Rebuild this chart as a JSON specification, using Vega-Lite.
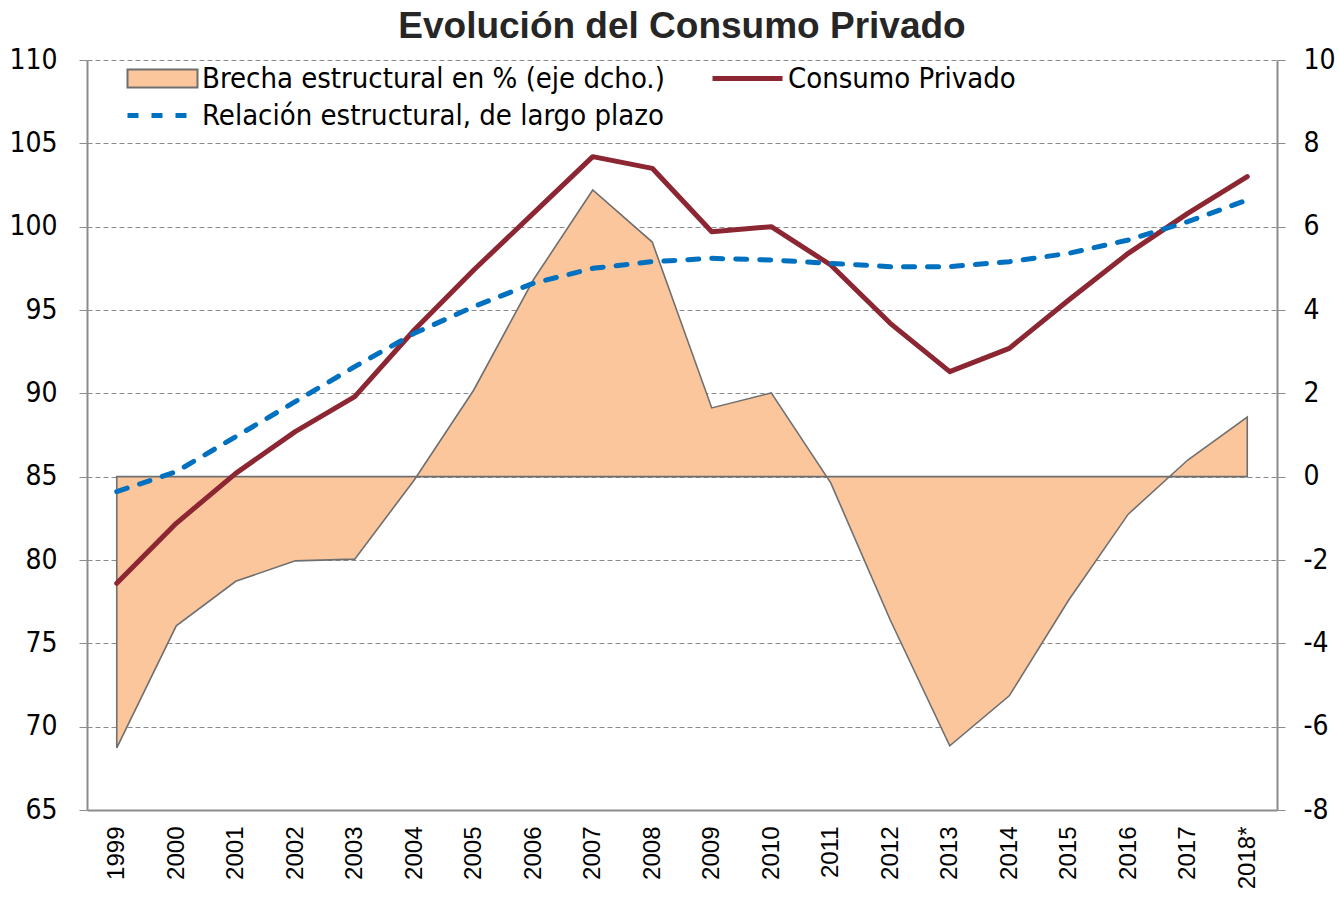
{
  "$schema": "https://vega.github.io/schema/vega-lite/v6.json",
  "width": 1190,
  "height": 750,
  "autosize": "none",
  "padding": {"left": 87, "top": 60, "right": 62, "bottom": 95},
  "background": "white",
  "title": {
    "text": "Evolución del Consumo Privado",
    "font": "Liberation Sans",
    "fontSize": 37,
    "fontWeight": "bold",
    "color": "#262626",
    "anchor": "middle",
    "offset": 0
  },
  "data": {
    "values": [
      {"year": "1999", "consumo": 78.6, "relacion": 84.1, "brecha": -6.51},
      {"year": "2000", "consumo": 82.2, "relacion": 85.3, "brecha": -3.58},
      {"year": "2001", "consumo": 85.2, "relacion": 87.4, "brecha": -2.51},
      {"year": "2002", "consumo": 87.7, "relacion": 89.5, "brecha": -2.02},
      {"year": "2003", "consumo": 89.8, "relacion": 91.6, "brecha": -1.98},
      {"year": "2004", "consumo": 93.8, "relacion": 93.6, "brecha": -0.08},
      {"year": "2005", "consumo": 97.4, "relacion": 95.2, "brecha": 2.08},
      {"year": "2006", "consumo": 100.8, "relacion": 96.6, "brecha": 4.72},
      {"year": "2007", "consumo": 104.2, "relacion": 97.5, "brecha": 6.88},
      {"year": "2008", "consumo": 103.5, "relacion": 97.9, "brecha": 5.63},
      {"year": "2009", "consumo": 99.7, "relacion": 98.1, "brecha": 1.65},
      {"year": "2010", "consumo": 100.0, "relacion": 98.0, "brecha": 2.01},
      {"year": "2011", "consumo": 97.7, "relacion": 97.8, "brecha": -0.15},
      {"year": "2012", "consumo": 94.2, "relacion": 97.6, "brecha": -3.44},
      {"year": "2013", "consumo": 91.3, "relacion": 97.6, "brecha": -6.46},
      {"year": "2014", "consumo": 92.7, "relacion": 97.9, "brecha": -5.26},
      {"year": "2015", "consumo": 95.6, "relacion": 98.4, "brecha": -2.96},
      {"year": "2016", "consumo": 98.4, "relacion": 99.2, "brecha": -0.9},
      {"year": "2017", "consumo": 100.8, "relacion": 100.3, "brecha": 0.4},
      {"year": "2018*", "consumo": 103.0, "relacion": 101.6, "brecha": 1.43}
    ]
  },
  "encoding": {
    "x": {
      "field": "year",
      "type": "ordinal",
      "sort": null,
      "scale": {"type": "point", "padding": 0.5},
      "axis": {
        "title": null,
        "labelAngle": -90,
        "labelAlign": "right",
        "labelBaseline": "middle",
        "labelFont": "Liberation Sans",
        "labelFontSize": 24,
        "labelColor": "#000000",
        "labelPadding": 16,
        "ticks": false,
        "domainColor": "#8c8c8c",
        "domainWidth": 2,
        "grid": false
      }
    }
  },
  "layer": [
    {
      "mark": {"type": "area", "stroke": "#6f6f6f", "strokeWidth": 1.6, "fillOpacity": 1},
      "encoding": {
        "y": {
          "field": "brecha",
          "type": "quantitative",
          "scale": {"domain": [-8, 10], "nice": false, "zero": false},
          "axis": {
            "orient": "right",
            "title": null,
            "values": [-8, -6, -4, -2, 0, 2, 4, 6, 8, 10],
            "labelExpr": "datum.value + ''",
            "labelFont": "DejaVu Sans Condensed",
            "labelFontSize": 28,
            "labelColor": "#000000",
            "labelPadding": 18,
            "tickSize": 8,
            "tickColor": "#8c8c8c",
            "domainColor": "#8c8c8c",
            "domainWidth": 2,
            "grid": false
          }
        },
        "y2": {"datum": 0},
        "fill": {
          "datum": "Brecha estructural en % (eje dcho.)",
          "scale": {"domain": ["Brecha estructural en % (eje dcho.)"], "range": ["#FCC69C"]},
          "legend": {
            "title": null,
            "orient": "none",
            "legendX": 36,
            "legendY": 4,
            "padding": 0,
            "labelFont": "DejaVu Sans Condensed",
            "labelFontSize": 29,
            "labelColor": "#000000",
            "labelLimit": 700,
            "labelOffset": 50,
            "symbolSize": 400,
            "symbolType": "M-1,-0.9H6V0.9H-1Z",
            "symbolFillColor": "#FCC69C",
            "symbolStrokeColor": "#6f6f6f",
            "symbolStrokeWidth": 2,
            "symbolOpacity": 1
          }
        }
      }
    },
    {
      "mark": {"type": "line", "strokeWidth": 5, "strokeCap": "round", "strokeJoin": "round"},
      "encoding": {
        "y": {
          "field": "consumo",
          "type": "quantitative",
          "scale": {"domain": [65, 110], "nice": false, "zero": false},
          "axis": {
            "orient": "left",
            "title": null,
            "values": [65, 70, 75, 80, 85, 90, 95, 100, 105, 110],
            "labelFont": "DejaVu Sans Condensed",
            "labelFontSize": 28,
            "labelColor": "#000000",
            "labelPadding": 22,
            "tickSize": 8,
            "tickColor": "#8c8c8c",
            "domainColor": "#8c8c8c",
            "domainWidth": 2,
            "grid": true,
            "gridColor": "#8c8c8c",
            "gridDash": [5, 3],
            "gridWidth": 1.2
          }
        },
        "stroke": {
          "datum": "Consumo Privado",
          "scale": {"domain": ["Consumo Privado"], "range": ["#8C2633"]},
          "legend": {
            "title": null,
            "orient": "none",
            "legendX": 621,
            "legendY": 4,
            "padding": 0,
            "labelFont": "DejaVu Sans Condensed",
            "labelFontSize": 29,
            "labelColor": "#000000",
            "labelLimit": 700,
            "labelOffset": 51,
            "symbolSize": 400,
            "symbolType": "M-1,0H6",
            "symbolStrokeWidth": 5,
            "symbolOpacity": 1
          }
        }
      }
    },
    {
      "mark": {"type": "line", "strokeWidth": 5, "strokeDash": [11, 13], "strokeCap": "round"},
      "encoding": {
        "y": {
          "field": "relacion",
          "type": "quantitative",
          "scale": {"domain": [65, 110], "nice": false, "zero": false},
          "axis": null
        },
        "color": {
          "datum": "Relación estructural, de largo plazo",
          "scale": {"domain": ["Relación estructural, de largo plazo"], "range": ["#0070C0"]},
          "legend": {
            "title": null,
            "orient": "none",
            "legendX": 36,
            "legendY": 41,
            "padding": 0,
            "labelFont": "DejaVu Sans Condensed",
            "labelFontSize": 29,
            "labelColor": "#000000",
            "labelLimit": 700,
            "labelOffset": 50,
            "symbolSize": 400,
            "symbolType": "M-1,0H6",
            "symbolStrokeWidth": 5,
            "symbolDash": [11, 13],
            "symbolOpacity": 1
          }
        }
      }
    }
  ],
  "resolve": {"scale": {"y": "independent"}},
  "config": {
    "view": {"stroke": null}
  }
}
